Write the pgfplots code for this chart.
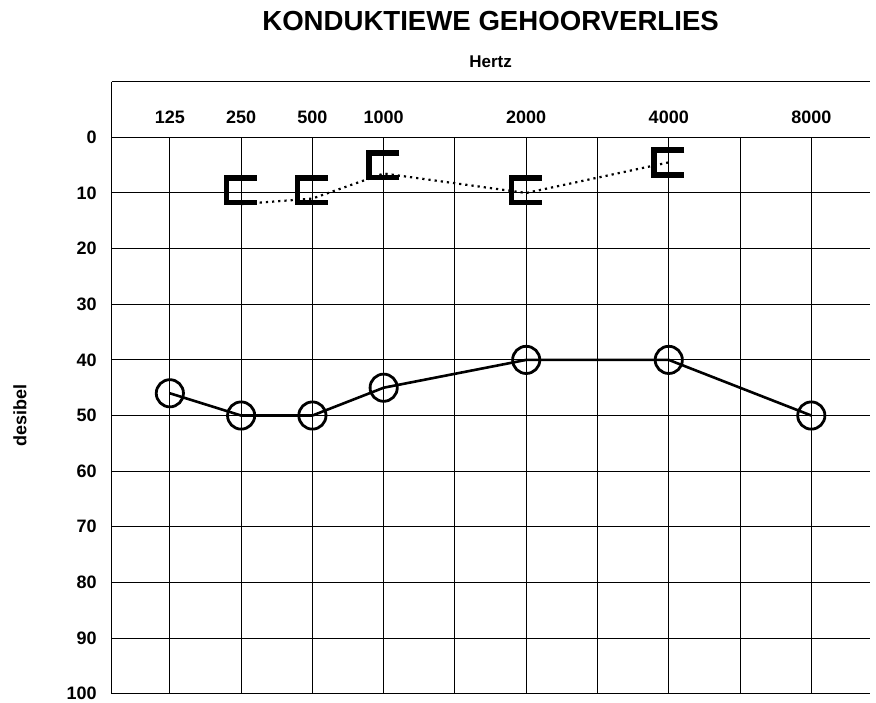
\documentclass[border=0pt]{standalone}
\usepackage{fontspec}
\setmainfont{Liberation Sans}
\usepackage{pgfplots}
\pgfplotsset{compat=1.18}
\pgfdeclareplotmark{bkt}{%
 \pgfpathmoveto{\pgfqpoint{7.8pt}{6.2pt}}%
 \pgfpathlineto{\pgfqpoint{-7.4pt}{6.2pt}}%
 \pgfpathlineto{\pgfqpoint{-7.4pt}{-6.2pt}}%
 \pgfpathlineto{\pgfqpoint{7.8pt}{-6.2pt}}%
 \pgfusepathqstroke}
\begin{document}
\begin{tikzpicture}
\path[use as bounding box] (-55.85pt,-4.15pt) rectangle (382.15pt,346.85pt);
\begin{axis}[
 at={(0,0)}, anchor=south west,
 scale only axis, width=378.95pt, height=306pt,
 xmin=-0.816, xmax=9.818, ymin=-10, ymax=100, y dir=reverse,
 axis y line*=left,
 axis line style={line width=0.7pt},
 xtick={0,1,2,3,5,7,9}, xticklabels={125,250,500,1000,2000,4000,8000},
 xticklabel pos=upper,
 xticklabel style={anchor=center, yshift=-18pt, font=\bfseries\fontsize{9}{9}\selectfont},
 ytick={0,10,...,100},
 yticklabel style={anchor=east, inner sep=0pt, xshift=-7.3pt, font=\bfseries\fontsize{9}{9}\selectfont},
 ymajorgrids, major grid style={black, line width=0.5pt},
 major tick length=0pt,
 clip=false,
 /pgf/number format/assume math mode=true,
]
\pgfplotsinvokeforeach{0,...,9}{\draw[black, line width=0.5pt] (axis cs:#1,0) -- (axis cs:#1,100);}
\addplot[black, line width=1.3pt, mark=o, mark size=6.8pt, mark options={solid, line width=1.4pt}]
 coordinates {(0,46)(1,50)(2,50)(3,45)(5,40)(7,40)(9,50)};
\addplot[black, line width=1.1pt, dash pattern=on 1.1pt off 2pt]
 coordinates {(1,12)(2,11)(3,6.5)(5,10)(7,4.5)};
\addplot[black, only marks, mark=bkt, mark options={solid, line width=2.8pt, line join=miter, line cap=butt}]
 coordinates {(1,9.5)(2,9.5)(3,5)(5,9.5)(7,4.5)};
\node[font=\bfseries\fontsize{13.8}{14}\selectfont, yshift=30.35pt] at (axis cs:4.5,-10) {KONDUKTIEWE GEHOORVERLIES};
\node[font=\bfseries\fontsize{8.5}{9}\selectfont, yshift=9.85pt] at (axis cs:4.5,-10) {Hertz};
\node[font=\bfseries\fontsize{9}{9}\selectfont, rotate=90] at (axis cs:-2.105,50) {desibel};
\end{axis}
\end{tikzpicture}
\end{document}
